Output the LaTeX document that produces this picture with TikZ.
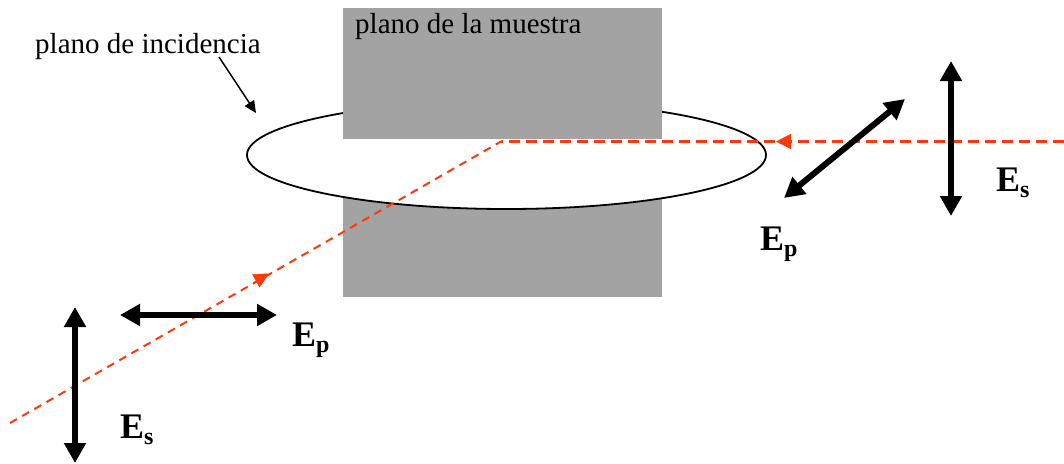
\documentclass[tikz,border=0pt]{standalone}
\usepackage{fontspec}
\setmainfont{Liberation Serif}
\usetikzlibrary{arrows.meta,shapes.geometric}
\definecolor{sample}{HTML}{A3A3A3}
\definecolor{ray}{HTML}{FF3A0A}
\tikzset{
  x=1pt,y=-1pt,
  plate/.style={fill=sample,draw=none,inner sep=0pt,outer sep=0pt,minimum width=319pt},
  lbl/.style={inner sep=0pt,font=\fontsize{29}{32}\selectfont,anchor=base west},
  field/.style={inner sep=0pt,font=\fontsize{36}{40}\selectfont\bfseries,anchor=base west},
  efield/.style={line width=6pt,{Triangle[length=20pt,width=21pt]}-{Triangle[length=20pt,width=21pt]}},
  rayin/.style={ray,line width=2pt,dash pattern=on 8pt off 6pt},
  rayout/.style={ray,line width=3.2pt,dash pattern=on 11pt off 6pt},
  rayhead/.style={ray,line width=.5pt,-{Triangle[length=15pt,width=15pt]}},
}
\newcommand{\fieldlabel}[2]{E\raisebox{-6pt}{\fontsize{24}{26}\selectfont #2}}
\begin{document}
\begin{tikzpicture}
\useasboundingbox (0,0) rectangle (1064,463);
% lower part of sample, ellipse, upper part of sample
\node[plate,anchor=north west,minimum height=289pt] (lower) at (343,8) {};
\node[ellipse,draw=black,fill=white,line width=1.8pt,minimum width=519pt,minimum height=108pt,inner sep=0pt] (inc) at (506.5,155) {};
\node[plate,anchor=north west,minimum height=131pt] (upper) at (343,8) {};
\node[lbl] (tmuestra) at (355,33) {plano de la muestra};
\node[lbl] (tinc) at (35,53) {plano de incidencia};
% pointer
\coordinate (pstart) at (219,57);
\coordinate (ptip) at (256,113);
\draw[line width=1.5pt,-{Triangle[length=12pt,width=11pt]}] (pstart) -- (ptip);
% ray
\coordinate (rstart) at (10,423);
\coordinate (rhit) at (501,141.5);
\coordinate (rend) at (1064,141.5);
\draw[rayin] (rstart) -- (rhit);
\draw[rayout] (rend) -- (rhit);
\coordinate (h1a) at (253,282.5);
\coordinate (h1b) at (269,273.5);
\draw[rayhead] (h1a) -- (h1b);
\coordinate (h2a) at (792,141.5);
\coordinate (h2b) at (776,141.5);
\draw[rayhead] (h2a) -- (h2b);
% field arrows
\coordinate (a1) at (951,61); \coordinate (a2) at (951,216);
\draw[efield] (a1) -- (a2);
\coordinate (b1) at (784,198); \coordinate (b2) at (905,99);
\draw[efield] (b1) -- (b2);
\coordinate (c1) at (120,315); \coordinate (c2) at (277,315);
\draw[efield] (c1) -- (c2);
\coordinate (d1) at (75,307); \coordinate (d2) at (75,463);
\draw[efield] (d1) -- (d2);
% labels
\node[field] (es1) at (996,191) {\fieldlabel{E}{s}};
\node[field] (ep1) at (760,250) {\fieldlabel{E}{p}};
\node[field] (ep2) at (292,346) {\fieldlabel{E}{p}};
\node[field] (es2) at (120,438) {\fieldlabel{E}{s}};
\end{tikzpicture}
\end{document}
